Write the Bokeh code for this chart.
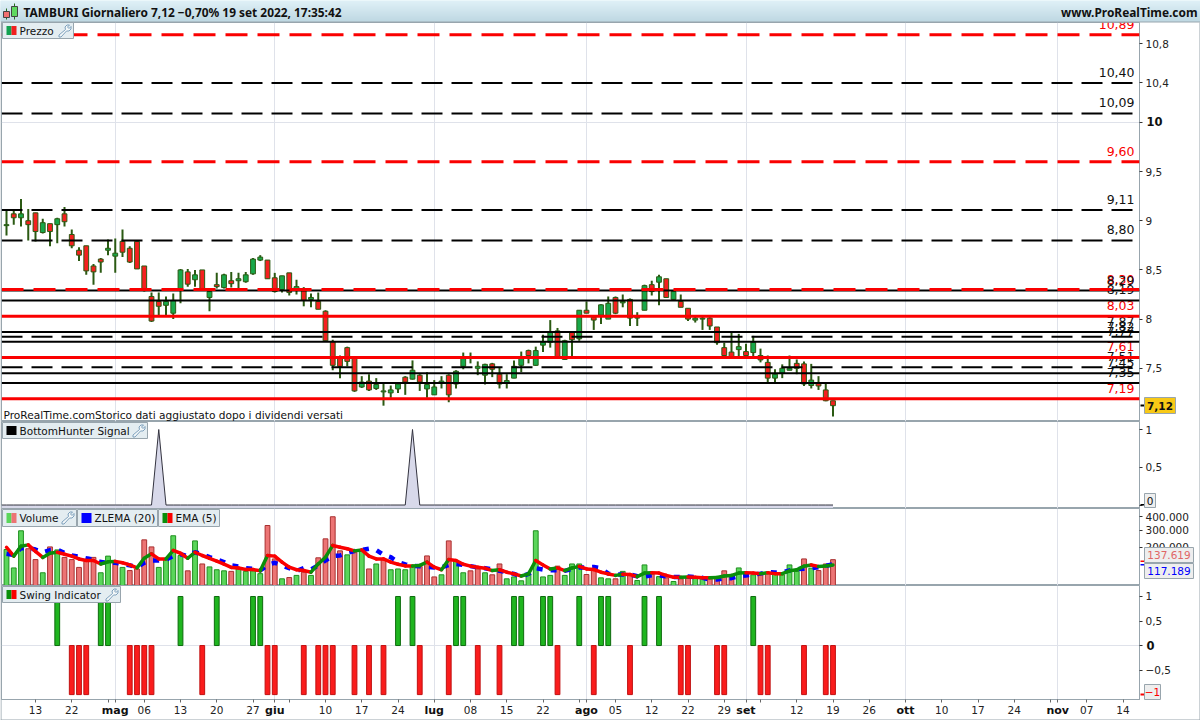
from bokeh.plotting import figure
from bokeh.layouts import column
from bokeh.models import FixedTicker, CustomJSTickFormatter, Span, Range1d
from bokeh.embed import file_html
from bokeh.resources import INLINE
from bokeh.core.properties import value
import numpy as np

# ---------------- data ----------------
opens = [8.95,9.07,9.03,9.00,9.08,8.88,8.97,8.96,9.07,8.86,8.70,8.745,8.54,8.61,8.70,8.64,8.79,8.72,8.79,8.54,
         8.23,8.18,8.14,8.06,8.31,8.48,8.40,8.50,8.22,8.35,8.32,8.39,8.39,8.38,8.46,8.60,8.60,8.42,8.30,8.47,
         8.31,8.31,8.20,8.18,8.08,7.77,7.62,7.71,7.60,7.31,7.37,7.295,7.26,7.25,7.29,7.41,7.39,7.43,7.29,7.23,
         7.35,7.43,7.34,7.52,7.61,7.50,7.43,7.545,7.44,7.35,7.40,7.53,7.68,7.53,7.735,7.765,7.88,7.59,7.87,7.80,
         8.09,8.02,8.04,8.00,8.22,8.165,8.20,8.01,8.09,8.35,8.375,8.41,8.20,8.18,8.11,7.99,8.00,8.01,7.92,7.71,
         7.665,7.69,7.67,7.66,7.63,7.56,7.40,7.45,7.48,7.55,7.545,7.325,7.35,7.28,7.17]
highs = [9.12,9.12,9.22,9.12,9.08,9.02,8.97,9.03,9.14,8.91,8.73,8.745,8.56,8.62,8.81,8.82,8.91,8.74,8.79,8.54,
         8.27,8.27,8.23,8.26,8.51,8.51,8.50,8.50,8.31,8.47,8.46,8.48,8.47,8.48,8.62,8.65,8.60,8.47,8.44,8.47,
         8.40,8.325,8.26,8.27,8.09,7.79,7.63,7.72,7.60,7.42,7.44,7.40,7.35,7.325,7.36,7.42,7.58,7.44,7.46,7.38,
         7.42,7.44,7.48,7.66,7.66,7.57,7.545,7.555,7.51,7.44,7.58,7.67,7.69,7.72,7.84,7.99,7.91,7.79,7.87,8.09,
         8.18,8.03,8.15,8.23,8.23,8.25,8.21,8.07,8.35,8.39,8.45,8.41,8.28,8.25,8.11,8.04,8.03,8.02,7.92,7.76,
         7.87,7.85,7.75,7.83,7.70,7.63,7.49,7.54,7.63,7.59,7.57,7.545,7.42,7.35,7.17]
lows = [8.85,8.96,8.94,8.80,8.79,8.87,8.74,8.77,8.94,8.72,8.59,8.45,8.35,8.47,8.65,8.47,8.63,8.57,8.51,8.28,
        7.97,8.04,8.04,8.00,8.16,8.33,8.33,8.30,8.08,8.31,8.31,8.32,8.31,8.37,8.45,8.59,8.41,8.27,8.27,8.24,
        8.25,8.13,8.12,8.10,7.78,7.48,7.40,7.52,7.26,7.30,7.27,7.28,7.12,7.20,7.25,7.23,7.385,7.27,7.20,7.23,
        7.295,7.155,7.295,7.49,7.55,7.43,7.335,7.41,7.295,7.295,7.40,7.46,7.55,7.525,7.665,7.71,7.61,7.585,7.61,7.78,
        8.06,7.89,7.95,8.00,8.05,8.12,7.93,7.93,8.09,8.24,8.14,8.22,8.19,8.12,7.98,7.965,7.89,7.89,7.74,7.61,
        7.61,7.61,7.61,7.61,7.56,7.34,7.36,7.40,7.48,7.44,7.32,7.295,7.28,7.165,7.01]
closes = [8.96,9.03,9.07,8.96,8.89,8.98,8.89,9.02,8.99,8.745,8.65,8.49,8.48,8.58,8.72,8.67,8.68,8.58,8.51,8.29,
          7.98,8.13,8.18,8.19,8.50,8.355,8.45,8.31,8.28,8.33,8.45,8.36,8.41,8.45,8.61,8.63,8.41,8.28,8.44,8.27,
          8.33,8.19,8.22,8.10,7.78,7.53,7.52,7.57,7.27,7.36,7.28,7.335,7.27,7.28,7.34,7.36,7.48,7.36,7.335,7.31,
          7.37,7.23,7.47,7.61,7.615,7.52,7.54,7.49,7.34,7.375,7.52,7.62,7.63,7.68,7.765,7.87,7.61,7.78,7.79,8.09,
          8.06,7.99,8.145,8.16,8.06,8.18,8.01,8.02,8.34,8.28,8.43,8.22,8.28,8.12,8.00,8.01,8.01,7.93,7.76,7.63,
          7.61,7.72,7.63,7.765,7.585,7.40,7.44,7.50,7.50,7.50,7.34,7.38,7.32,7.17,7.12]

levels_red_dash = [10.89, 9.60, 8.30]
levels_red_solid = [8.03, 7.61, 7.19]
levels_black_dash = [10.40, 10.09, 9.11, 8.80, 7.82, 7.51]
levels_black_solid = [8.29, 8.19, 7.87, 7.77, 7.45, 7.35]

hunter = [0.0] * 115
hunter_peaks = [21, 56]

vol_k = [187,103,298,191,138,85,201,185,148,138,105,130,148,85,154,124,105,93,99,241,
         201,105,138,266,157,92,235,119,107,96,92,90,99,90,92,82,334,141,65,69,
         76,87,76,146,247,398,180,160,173,185,99,119,141,96,99,96,110,109,155,71,
         78,235,134,85,92,99,85,78,119,65,71,59,81,298,71,76,110,76,119,119,
         79,96,68,65,65,90,76,60,115,81,72,68,57,65,67,68,65,65,67,92,
         70,103,81,78,82,87,81,78,115,90,141,102,93,119,137.619]
vol_dir = ("gggrrgrgrr" "rrrggrgrrr" "rggggrgrgg" "grggggrrgr" "grgrrrrgrg" "rgrggggrrr"
           "grggrrgrrg" "ggggggrggg" "rrggrgrggr" "grgrrggrrr" "rgrgrrgggg" "rgrrr")
ema_k = [199,154,205,212,177,148,168,173,163,154,141,134,134,119,128,130,124,115,103,144,
         165,141,141,182,168,144,173,157,144,131,118,105,103,97,97,92,157,154,127,106,
         96,93,87,119,149,209,199,191,180,185,154,141,141,127,118,111,111,113,127,106,
         96,138,134,118,110,106,102,93,96,87,81,74,81,134,115,99,103,93,103,109,
         99,97,87,81,76,80,79,72,84,85,84,76,70,70,71,70,68,68,69,74,
         76,84,85,84,82,85,82,82,92,96,110,115,109,111,115]
zlema_k = [165,160,194,194,187,173,184,187,170,157,151,144,138,127,124,124,119,113,107,124,
           134,134,138,154,163,154,173,163,149,138,127,113,109,102,99,93,115,124,113,102,
           92,102,97,113,134,154,157,170,179,185,191,184,160,149,127,117,111,110,107,105,
           105,115,119,115,110,105,102,97,92,87,81,73,81,102,97,94,94,92,99,105,
           105,107,102,82,79,79,79,73,72,76,76,73,71,71,72,70,68,63,63,67,
           67,73,76,79,82,87,86,87,93,99,100,102,106,111,117.189]

swing_up = [7,13,14,24,29,34,35,54,56,62,63,70,71,74,75,79,82,83,88,90,103]
swing_down = [9,10,11,17,18,19,20,27,36,37,41,43,44,45,48,50,52,57,61,65,68,76,81,86,93,94,98,99,104,105,110,113,114]

tick_labels = {4:"13",9:"22",19:"06",24:"13",29:"20",34:"27",44:"10",49:"17",54:"24",64:"08",69:"15",74:"22",
               84:"05",89:"12",94:"22",99:"29",109:"12",114:"19",119:"26",129:"10",134:"17",139:"24",149:"07",154:"14"}
tick_blank = [14,39,79,104,144]
month_labels = {15:"mag",37:"giu",59:"lug",80:"ago",102:"set",124:"ott",145:"nov"}

# ---------------- style ----------------
FONT = "DejaVu Sans"
HEAD = "Noto Sans"
EDGE = "#98a5ad"
GRID = "#dfe2ea"
CHIP = "#e4edf1"
WIDTH = 1200
FRAME_L, FRAME_R = 1, 1139
X0, DX = 6, 7.25
XR = Range1d((FRAME_L - X0) / DX, (FRAME_R - X0) / DX)
idx = np.arange(115)
week_ticks = sorted(list(tick_labels) + tick_blank + list(month_labels))


def panel(height, y0, y1, ticks, bottom=0, fmt=None):
    p = figure(width=WIDTH, height=height, x_range=XR, y_range=Range1d(y0, y1),
               output_backend="svg", toolbar_location=None, y_axis_location="right",
               x_axis_location="below" if bottom else None,
               min_border_left=FRAME_L, min_border_right=WIDTH - FRAME_R,
               min_border_top=0, min_border_bottom=bottom, background_fill_color="white",
               border_fill_color="white")
    p.outline_line_color = EDGE
    p.outline_line_width = 1
    p.xgrid.ticker = FixedTicker(ticks=list(month_labels))
    p.xgrid.grid_line_color = GRID
    p.xgrid.grid_line_width = 1
    p.ygrid.grid_line_color = None
    ax = p.yaxis[0]
    ax.ticker = FixedTicker(ticks=ticks)
    ax.formatter = fmt
    ax.axis_line_color = EDGE
    ax.major_tick_line_color = "#333333"
    ax.major_tick_in = 0
    ax.major_tick_out = 3
    ax.minor_tick_line_color = None
    ax.major_label_text_font = FONT
    ax.major_label_text_font_size = "10.5px"
    ax.major_label_text_color = "#222222"
    ax.major_label_standoff = 3
    return p


# ---------------- price ----------------
def price_at(y):
    return 8 + (318.6 - y) / 98.38


P = panel(399, price_at(421), price_at(22), [10.8, 10.4, 9.5, 9, 8.5, 8, 7.5, 10],
          fmt=CustomJSTickFormatter(code="return tick==10 ? '' : String(tick).replace('.', ',');"))
P.ygrid.ticker = FixedTicker(ticks=[10])
P.ygrid.grid_line_color = GRID

o, h, l, c = map(np.array, (opens, highs, lows, closes))
up = c >= o
P.segment(idx, h, idx, l, line_color="#2b5a13", line_width=2)
P.vbar(x=idx, top=np.maximum(o, c), bottom=np.minimum(o, c), width=0.66,
       fill_color=["#18a84a" if u else "#f5201f" for u in up], line_color="#2b5a13", line_width=1)

for lv in levels_black_solid:
    P.add_layout(Span(location=lv, dimension="width", line_color="black", line_width=2))
for lv in levels_black_dash:
    P.add_layout(Span(location=lv, dimension="width", line_color="black", line_width=2, line_dash="21 9"))
for lv in levels_red_solid:
    P.add_layout(Span(location=lv, dimension="width", line_color="#fa0000", line_width=3))
for lv in levels_red_dash:
    P.add_layout(Span(location=lv, dimension="width", line_color="#fa0000", line_width=3, line_dash="22 10"))


def lv_text(vals, color):
    P.text(x=[(1134 - X0) / DX] * len(vals), y=vals, text=[f"{v:.2f}".replace(".", ",") for v in vals],
           text_font=value(FONT), text_font_size="12.5px", text_align="right", text_baseline="bottom",
           text_color=color, y_offset=-6)


lv_text(levels_red_dash + levels_red_solid, "#fa0000")
lv_text(levels_black_dash + levels_black_solid, "#111111")

# ---------------- bottom hunter ----------------
B = panel(87, -0.046, 1.106, [1, 0.5, 0],
          fmt=CustomJSTickFormatter(code="return tick==0 ? '' : String(tick).replace('.', ',');"))
hv = np.array(hunter)
hv[hunter_peaks] = 1.0
hx = np.r_[-1, idx]
hy = np.r_[0.0, hv]
B.varea(x=hx, y1=hy, y2=-0.046, fill_color="#d8d9ea")
B.line(x=hx, y=hy, line_color="#33333f", line_width=1)

# ---------------- volume ----------------
vol_top = 20 + (516 - 508) / 5.22
vol_bot = 20 - (585 - 516) / 5.22
V = panel(77, vol_bot, vol_top, [np.sqrt(400), np.sqrt(300), np.sqrt(200)],
          fmt=CustomJSTickFormatter(code="return Math.round(tick*tick) + '.000';"))
vs = np.sqrt(np.array(vol_k, dtype=float))
V.vbar(x=idx, top=vs, bottom=vol_bot, width=0.66,
       fill_color=["#5ad65a" if d == "g" else "#ec7474" for d in vol_dir],
       line_color=["#1f8f1f" if d == "g" else "#a83030" for d in vol_dir], line_width=1)
V.line(x=idx, y=np.sqrt(np.array(zlema_k, dtype=float)), line_color="#0000ff", line_width=4.5, line_dash="6 8")
es = np.sqrt(np.array(ema_k, dtype=float))
V.segment(x0=idx[:-1], x1=idx[1:], y0=es[:-1], y1=es[1:], line_width=3.5, line_cap="round",
          line_color=["#0a8f0a" if es[k + 1] > es[k] else "#fa0000" for k in range(114)])

# ---------------- swing ----------------
S = panel(135, -1.10, 1.224, [1, 0.5, 0, -0.5], bottom=21,
          fmt=CustomJSTickFormatter(code="return tick==0 ? '' : String(tick).replace('.', ',').replace('-', '\u2212');"))
S.ygrid.ticker = FixedTicker(ticks=[0])
S.ygrid.grid_line_color = GRID
S.vbar(x=swing_up, top=[1.0] * len(swing_up), bottom=0, width=0.66, fill_color="#1fb51f",
       line_color="#0d6b0d", line_width=1)
S.vbar(x=swing_down, top=0, bottom=[-1.0] * len(swing_down), width=0.66, fill_color="#fa1c1c",
       line_color="#c01010", line_width=1)
xa = S.xaxis[0]
xa.ticker = FixedTicker(ticks=week_ticks)
xa.major_label_overrides = {k: tick_labels.get(k, "") for k in week_ticks}
xa.axis_line_color = EDGE
xa.major_tick_line_color = "#666666"
xa.major_tick_in = 0
xa.major_tick_out = 3
xa.minor_tick_line_color = None
xa.major_label_text_font = FONT
xa.major_label_text_font_size = "10.5px"
xa.major_label_text_color = "#222222"
xa.major_label_standoff = 3

# ---------------- overlay: header, legends, value tags, bold tick labels ----------------
O = figure(width=WIDTH, height=720, x_range=Range1d(0, WIDTH), y_range=Range1d(720, 0),
           output_backend="svg", toolbar_location=None, x_axis_location=None, y_axis_location=None,
           min_border_left=0, min_border_right=0, min_border_top=0, min_border_bottom=0,
           background_fill_alpha=0, border_fill_alpha=0,
           styles={"position": "absolute", "left": "0px", "top": "0px", "z-index": "10"})
O.grid.visible = False
O.outline_line_color = None

band_top = np.arange(0, 21)
band_col = ["#%02x%02x%02x" % (int(224 - 1.6 * k), int(241 - 1.2 * k), int(247 - 1.0 * k)) for k in band_top]
O.quad(left=0, right=WIDTH, top=band_top, bottom=band_top + 1, fill_color=band_col, line_color=band_col)
O.segment(x0=[0], x1=[WIDTH], y0=[21.5], y1=[21.5], line_color=EDGE, line_width=1)
O.segment(x0=[6, 14], x1=[6, 14], y0=[8, 3], y1=[19, 19], line_color="#2a6a20", line_width=1)
O.quad(left=[3, 11], right=[9, 17], top=[11, 6], bottom=[17, 16], fill_color=["#f07070", "#5fd85f"],
       line_color="#444444")
O.text(x=[23], y=[11.5], text=["TAMBURI Giornaliero 7,12 \u22120,70% 19 set 2022, 17:35:42"],
       text_font=value(HEAD), text_font_style="bold", text_font_size="11.9px", text_baseline="middle",
       text_color="#111111")
O.text(x=[1197], y=[11.5], text=["www.ProRealTime.com"], text_font=value(HEAD), text_font_style="bold",
       text_font_size="11.9px", text_baseline="middle", text_align="right", text_color="#111111")


def box(l, r, t, b, fill, line=None):
    O.quad(left=[l], right=[r], top=[t], bottom=[b], fill_color=fill,
           line_color=line if line else fill, line_width=1 if line else 0)


def label(X, Y, text, color="#111111", size="10.5px", style="normal", align="left", base="middle"):
    O.text(x=[X], y=[Y], text=[text], text_color=color, text_font=value(FONT), text_font_size=size,
           text_font_style=style, text_align=align, text_baseline=base)


def wrench(X, Y):
    shape_x = [0.5,7,6.5,8.5,11,9,10.5,12.5,12.5,10.5,8,2.5,0.5]
    shape_y = [10.5,5,2.5,0.5,0.5,2.5,4,2,4.5,6.5,6.5,12.5,12.5]
    O.patch(x=[X + a for a in shape_x], y=[Y + b for b in shape_y], fill_color="white", fill_alpha=0.6,
            line_color="#7ea1bd", line_width=1)


def chip(l, r, t, b, text, colors, tool=False):
    box(l, r, t, b, CHIP, EDGE)
    w = 10 / len(colors)
    for k, col in enumerate(colors):
        box(l + 4 + k * w, l + 4 + (k + 1) * w, t + 3.5, b - 3.5, col)
    label(l + 17, (t + b) / 2, text)
    if tool:
        wrench(r - 15, t + 2)


chip(2, 73, 22, 38, "Prezzo", ["#12a150", "#f01f1f"], tool=True)
chip(2, 147, 422, 438, "BottomHunter Signal", ["black"], tool=True)
chip(2, 76, 509, 526, "Volume", ["#5ad65a", "#ec7474"], tool=True)
chip(77, 157, 509, 526, "ZLEMA (20)", ["#0000ff"])
chip(158, 219, 509, 526, "EMA (5)", ["#0a8f0a", "#fa0000"])
chip(2, 120, 586, 602, "Swing Indicator", ["#0a8f0a", "#fa0000"], tool=True)

label(3, 420, "ProRealTime.comStorico dati aggiustato dopo i dividendi versati", base="bottom", size="10.6px")
label(1146, 120.5, "10", style="bold", size="11.5px")
label(1146, 645, "0", style="bold", size="11.5px")

box(1140, 1144, 404, 406, "black")
box(1144, 1175, 397, 413, "#f8c916", EDGE)
label(1159.5, 405, "7,12", style="bold", align="center")

box(1140, 1144, 503.5, 505, "black")
box(1144, 1155, 493, 507, "#eeeeee", EDGE)
label(1149.5, 500, "0", align="center")

box(1140, 1144, 560, 561.5, "#fa0000")
box(1140, 1144, 563.5, 565, "#0000ff")
box(1144, 1193, 547, 562, "#eeeeee", EDGE)
label(1168.5, 554.5, "137.619", color="#e06666", align="center")
box(1144, 1193, 563, 578, "#eeeeee", EDGE)
label(1168.5, 570.5, "117.189", color="#0000ff", align="center")

box(1140, 1144, 693, 695, "#fa0000")
box(1144, 1160, 684, 699, "#eeeeee", EDGE)
label(1152, 691.5, "\u22121", color="#fa0000", align="center")

for k, t in month_labels.items():
    label(X0 + DX * k, 710, t, style="bold", size="11px", align="center")

O.segment(x0=[0.5, 1199.5, 0], x1=[0.5, 1199.5, 1200], y0=[22, 22, 719.5], y1=[720, 720, 719.5],
          line_color=EDGE, line_width=1)

page = column(P, B, V, S, spacing=0, styles={"position": "absolute", "left": "0px", "top": "22px"})
open("out.html", "w").write(file_html([page, O], INLINE))
